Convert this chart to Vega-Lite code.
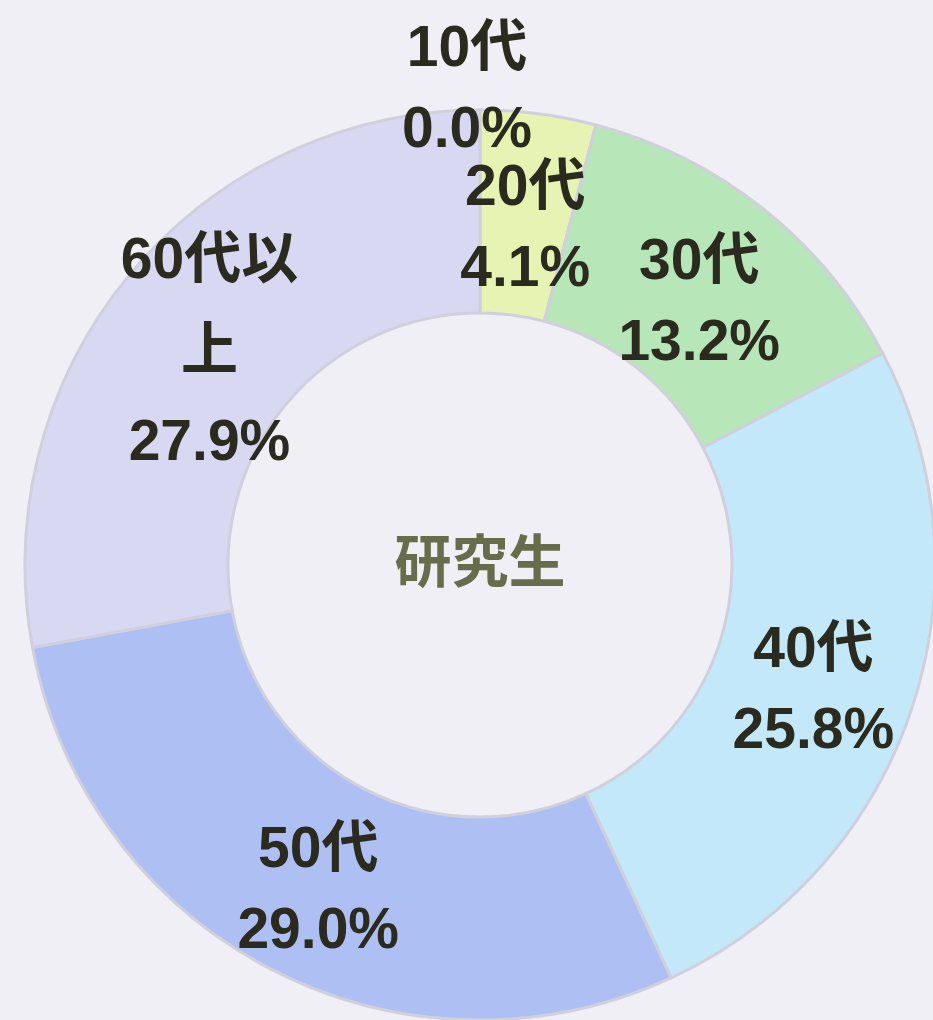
{
  "$schema": "https://vega.github.io/schema/vega-lite/v6.json",
  "autosize": "none",
  "width": 906,
  "height": 910,
  "padding": {"left": 27, "top": 110, "right": 0, "bottom": 0},
  "background": "#f0eff5",
  "view": {"stroke": null},
  "data": {
    "values": [
      {"age": "10代", "pct": 0.0},
      {"age": "20代", "pct": 4.1},
      {"age": "30代", "pct": 13.2},
      {"age": "40代", "pct": 25.8},
      {"age": "50代", "pct": 29.0},
      {"age": "60代以上", "pct": 27.9}
    ]
  },
  "transform": [
    {"calculate": "datum.age == '60代以上' ? ['60代以', '上', format(datum.pct, '.1f') + '%'] : [datum.age, format(datum.pct, '.1f') + '%']", "as": "lines"}
  ],
  "layer": [
    {
      "mark": {"type": "arc", "outerRadius": 455, "innerRadius": 252, "stroke": "#d0d0dd", "strokeWidth": 3},
      "encoding": {
        "theta": {"field": "pct", "type": "quantitative", "stack": true},
        "color": {
          "field": "age",
          "type": "nominal",
          "sort": ["10代", "20代", "30代", "40代", "50代", "60代以上"],
          "scale": {
            "domain": ["10代", "20代", "30代", "40代", "50代", "60代以上"],
            "range": ["#f3e3a8", "#e6f3b3", "#b7e6b8", "#c3e8fa", "#aec0f3", "#d8d8f2"]
          },
          "legend": null
        }
      }
    },
    {
      "mark": {
        "type": "text",
        "radius": {"expr": "datum.age == '10代' ? 478 : 352"},
        "dy": {"expr": "datum.age == '10代' ? -38 : (length(datum.lines) == 3 ? -79 : -28)"},
        "dx": {"expr": "datum.age == '10代' ? -13 : 0"},
        "lineHeight": {"expr": "length(datum.lines) == 3 ? 91 : 81"},
        "font": "Liberation Sans, Noto Sans CJK JP",
        "fontWeight": "bold",
        "fontSize": 57,
        "align": "center",
        "baseline": "middle",
        "color": "#2a2a1e"
      },
      "encoding": {
        "theta": {"field": "pct", "type": "quantitative", "stack": true},
        "detail": {"field": "age", "type": "nominal", "sort": ["10代", "20代", "30代", "40代", "50代", "60代以上"]},
        "text": {"field": "lines"}
      }
    },
    {
      "data": {"values": [{"title": "研究生"}]},
      "mark": {
        "type": "text",
        "font": "Noto Sans CJK JP",
        "fontWeight": "bold",
        "fontSize": 57,
        "align": "center",
        "baseline": "middle",
        "color": "#676c4a"
      },
      "encoding": {
        "text": {"field": "title"}
      }
    }
  ]
}
